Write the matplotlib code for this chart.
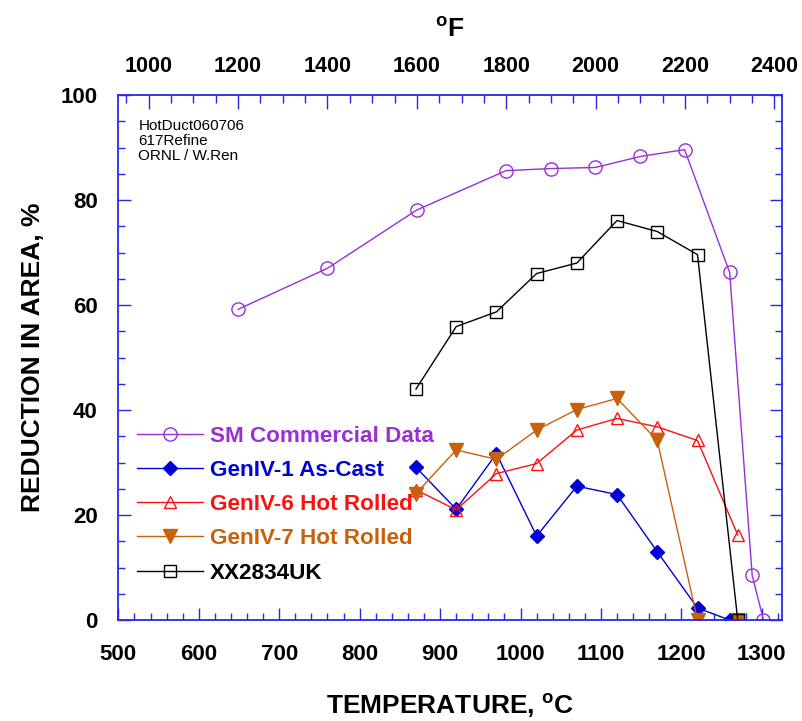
import numpy as np
import matplotlib
matplotlib.use("Agg")
import matplotlib.pyplot as plt
from matplotlib.ticker import MultipleLocator

plt.rcParams['font.family'] = ['Liberation Sans', 'DejaVu Sans']
plt.rcParams['mathtext.fontset'] = 'custom'
plt.rcParams['mathtext.rm'] = 'Liberation Sans'
plt.rcParams['mathtext.bf'] = 'Liberation Sans:bold'

# commercial data, taken in deg F and converted
sm_temp = [649, 760, 871, 982, 1038, 1093, 1149, 1204, 1260, 1288, 1302]
sm_ra = [59.2, 67.0, 78.1, 85.6, 86.0, 86.2, 88.3, 89.6, 66.2, 8.5, 0.0]

gen_temp = [870, 920, 970, 1020, 1070, 1120, 1170, 1220]
gen1_temp = gen_temp + [1260]
gen1_ra = [29.1, 21.1, 31.7, 16.0, 25.5, 23.9, 13.0, 2.3, 0.0]
gen6_temp = gen_temp + [1270]
gen6_ra = [24.8, 21.0, 27.9, 29.8, 36.2, 38.4, 36.8, 34.2, 16.2]
gen7_temp = gen_temp + [1270]
gen7_ra = [24.1, 32.4, 30.6, 36.2, 40.1, 42.2, 34.2, 0.0, 0.0]
xx_temp = gen_temp + [1270]
xx_ra = [44.0, 55.9, 58.7, 66.0, 68.0, 76.1, 74.0, 69.6, 0.0]

purple = '#9A2FD6'
blue = '#0000D8'
red = '#FF1010'
orange = '#C8620A'
spine_blue = '#2828EE'

fig = plt.figure(figsize=(8.03, 7.21), dpi=100)
ax = fig.add_axes([0.1474, 0.140, 0.8264, 0.7282])

ax.plot(sm_temp, sm_ra, '-o', color=purple, lw=1, ms=9.5, mfc='none', mew=1,
        label='SM Commercial Data')
ax.plot(gen1_temp, gen1_ra, '-D', color=blue, lw=1, ms=7.5, mfc=blue, mew=1,
        label='GenIV-1 As-Cast')
ax.plot(gen6_temp, gen6_ra, '-^', color=red, lw=1, ms=9, mfc='none', mew=1,
        label='GenIV-6 Hot Rolled')
ax.plot(gen7_temp, gen7_ra, '-v', color=orange, lw=1, ms=9.5, mfc=orange, mew=1,
        label='GenIV-7 Hot Rolled')
ax.plot(xx_temp, xx_ra, '-s', color='black', lw=1, ms=8.5, mfc='none', mew=1,
        label='XX2834UK')

ax.set_xlim(500, 1325)
ax.set_ylim(0, 100)
ax.xaxis.set_major_locator(MultipleLocator(100))
ax.xaxis.set_minor_locator(MultipleLocator(20))
ax.yaxis.set_major_locator(MultipleLocator(20))
ax.yaxis.set_minor_locator(MultipleLocator(5))
ax.tick_params(which='both', direction='in', color=spine_blue, right=True,
               labelsize=16)
ax.tick_params(axis='x', pad=17)
ax.tick_params(axis='y', pad=15)
ax.tick_params(which='major', length=9, width=1)
ax.tick_params(which='minor', length=5, width=1)
for lab in ax.get_xticklabels() + ax.get_yticklabels():
    lab.set_fontweight('bold')
for sp in ax.spines.values():
    sp.set_color(spine_blue)
    sp.set_linewidth(1.3)
ax.spines['top'].set_visible(False)

# upper axis in deg F
top = ax.secondary_xaxis('top', functions=(lambda c: c * 9 / 5 + 32,
                                           lambda f: (f - 32) * 5 / 9))
top.xaxis.set_major_locator(MultipleLocator(200))
top.xaxis.set_minor_locator(MultipleLocator(50))
top.tick_params(which='both', direction='in', color=spine_blue, labelsize=15.5, pad=13)
top.tick_params(which='major', length=10, width=1)
top.tick_params(which='minor', length=6, width=1)
top.spines['top'].set_color(spine_blue)
top.spines['top'].set_linewidth(1.3)
for lab in top.get_xticklabels():
    lab.set_fontweight('bold')
top.set_xlabel(r'$^{\mathbf{o}}$F', fontsize=19, fontweight='bold', labelpad=14)

ax.set_xlabel(r'TEMPERATURE, $^{\mathbf{o}}$C', fontsize=19, fontweight='bold',
              labelpad=19)
ax.set_ylabel('REDUCTION IN AREA, %', fontsize=19, fontweight='bold', labelpad=11)

ax.text(0.03, 0.955, 'HotDuct060706\n617Refine\nORNL / W.Ren', transform=ax.transAxes,
        fontsize=11, va='top', ha='left', linespacing=1.1)

leg = ax.legend(loc='lower left', bbox_to_anchor=(0.0, 0.033), frameon=False,
                prop={'size': 16.2, 'weight': 'bold'}, labelcolor='linecolor',
                handlelength=2.9, handletextpad=0.33, labelspacing=0.59,
                borderaxespad=0.45)

fig.savefig('out.png', dpi=100)
